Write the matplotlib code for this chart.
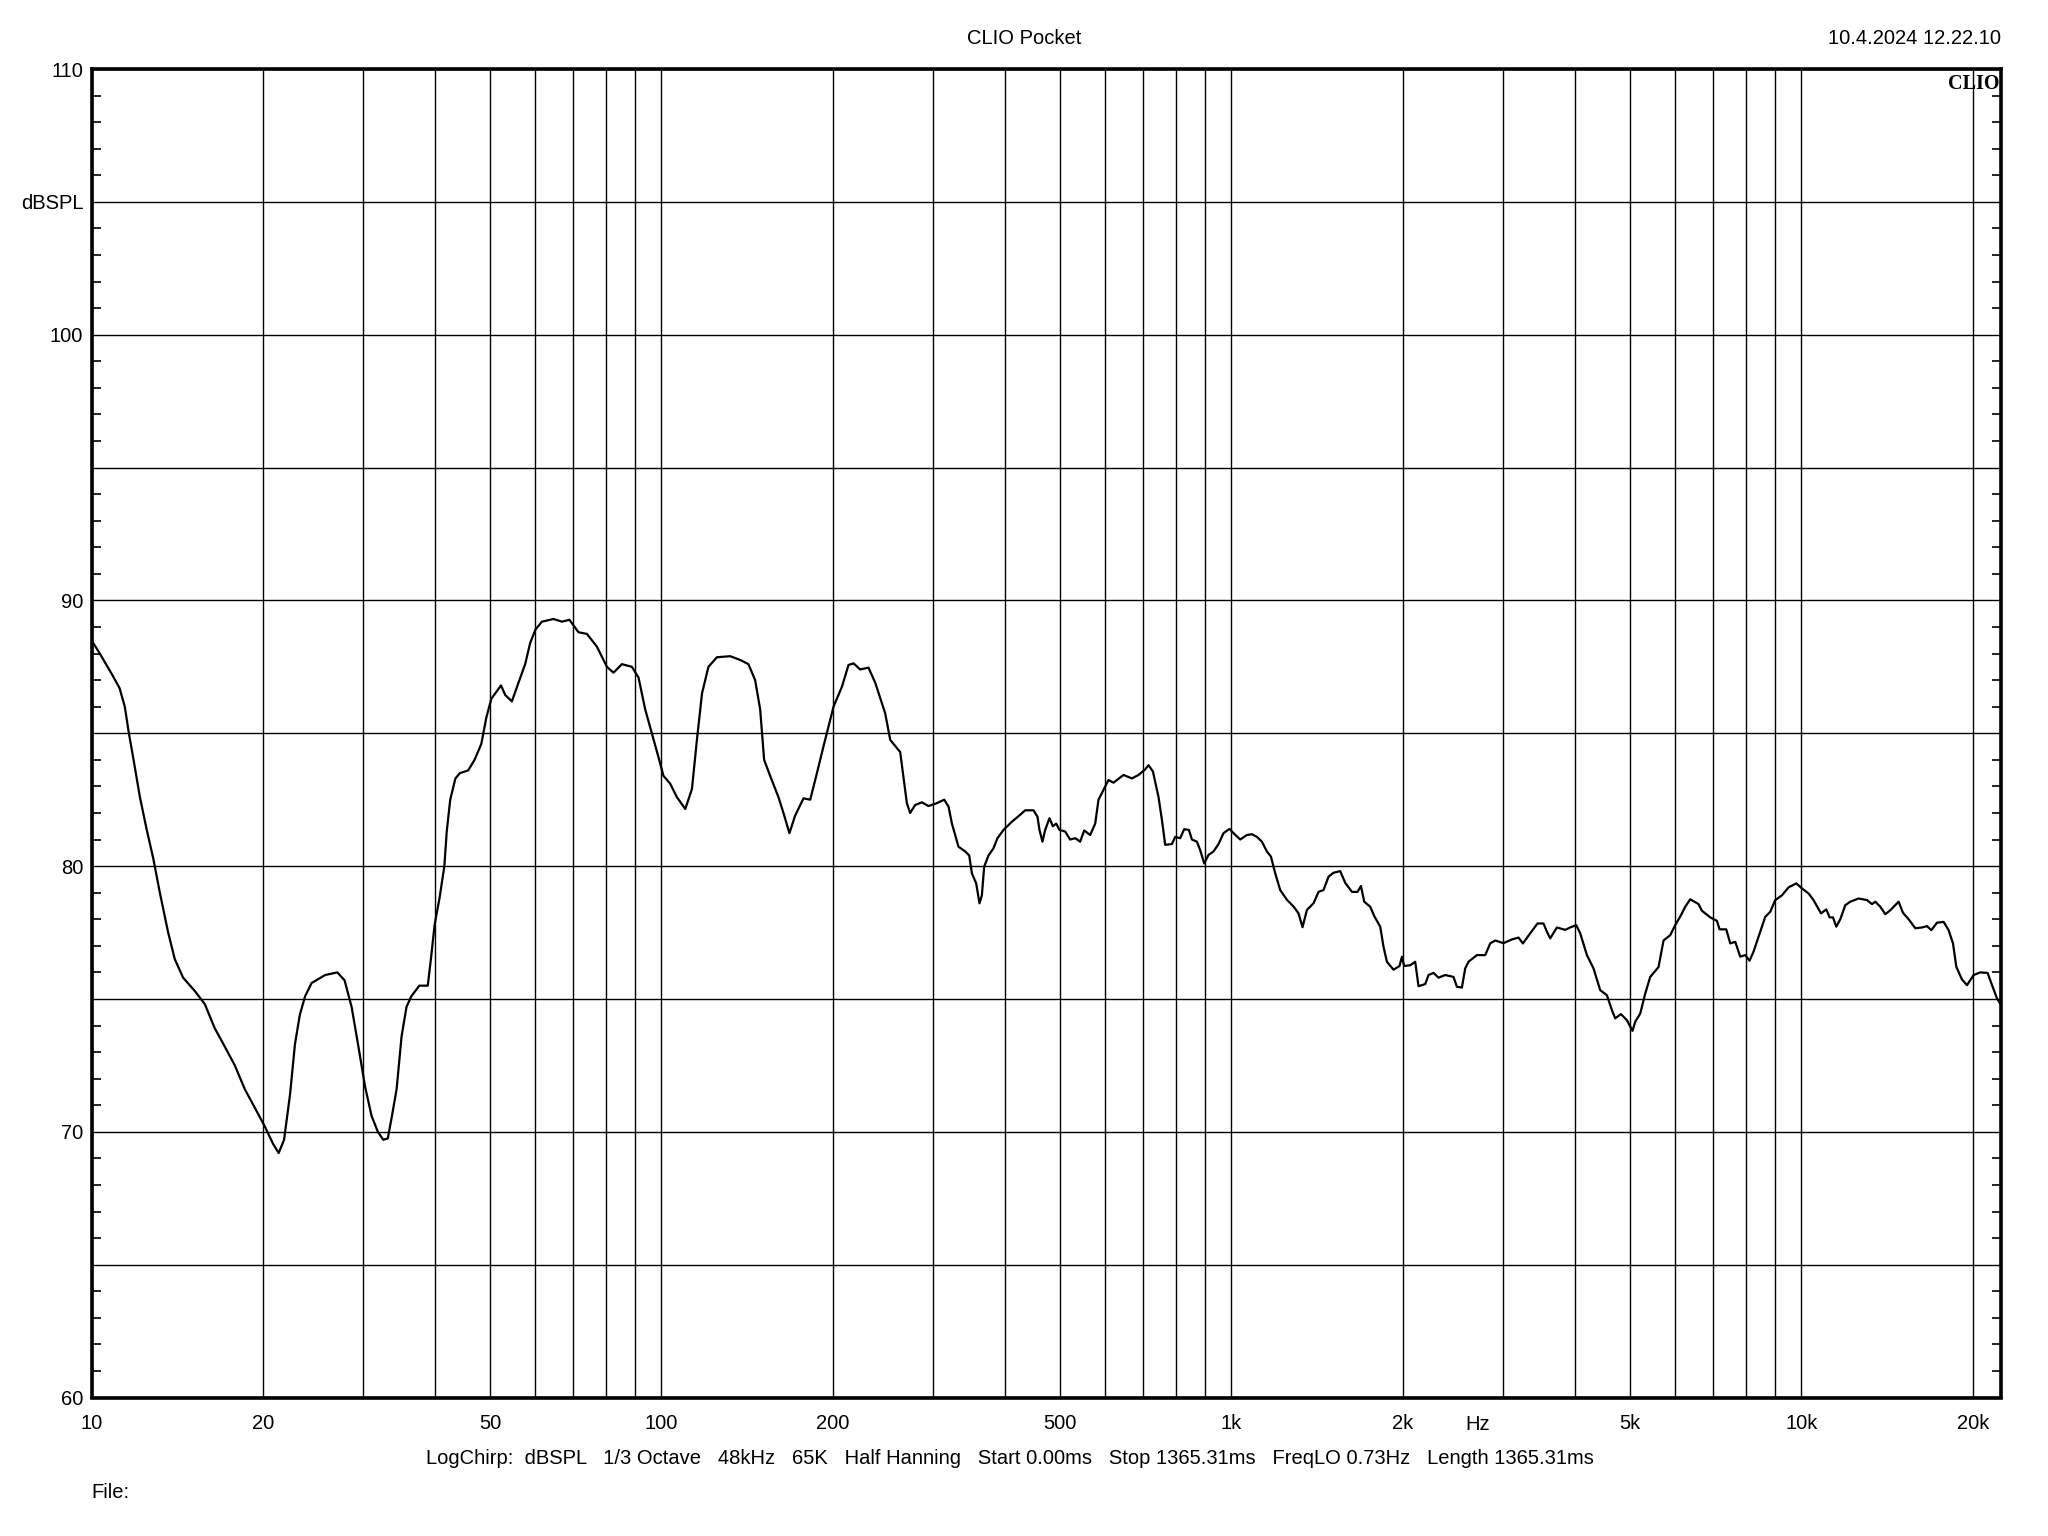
# CLIO Pocket frequency response (LogChirp, 1/3 octave)
import matplotlib as mpl
mpl.use('Agg')
mpl.rcParams['font.family'] = ['Liberation Sans', 'DejaVu Sans']
import matplotlib.pyplot as plt
import matplotlib.transforms as mtransforms
import numpy as np

# Response curve (Hz, dBSPL)
freq = [10, 10.34, 10.84, 11.2, 11.44, 11.63, 11.83, 12.16, 12.49, 12.83, 13.18, 13.63, 14.0, 14.48,
        15.18, 15.81, 16.45, 17.14, 17.84, 18.58, 19.35, 20.14, 20.82, 21.3, 21.77, 22.3, 22.75, 23.2,
        23.7, 24.33, 25.7, 27.0, 27.8, 28.6, 29.4, 30.2, 31.0, 31.8, 32.5, 33.1, 33.6, 34.3, 35.0, 35.7,
        36.4, 37.6, 38.9, 39.4, 40.0, 40.8, 41.6, 42.0, 42.6, 43.5, 44.3, 45.8, 47.0, 48.3, 49.3, 50.3,
        52.3, 53.19, 54.65, 56.12, 57.66, 58.84, 60.1, 61.69, 64.65, 66.88, 68.96, 71.52, 73.99, 77.04,
        80.22, 82.38, 85.23, 88.74, 91.14, 93.64, 96.19, 98.8, 100.8, 103.6, 106.4, 110.1, 113.1, 115.4,
        117.8, 120.9, 125.1, 132.0, 137.4, 142.1, 146.0, 149.0, 151.4, 155.1, 160.4, 163.7, 167.7, 171.6,
        177.5, 182.4, 187.4, 192.4, 200.4, 207.4, 212.9, 217.3, 223.2, 230.8, 237.2, 246.9, 252.0, 260.5,
        262.3, 269.5, 273.1, 278.7, 286.4, 294.1, 304.3, 313.4, 318.9, 323.3, 332.0, 341.2, 346.7, 350.5,
        356.6, 361.4, 364.9, 368.3, 374.8, 382.4, 388.6, 398.2, 411.9, 425.9, 434.6, 449.5, 456.8, 460.5,
        466.1, 471.2, 479.5, 486.1, 492.7, 499.3, 510.9, 521.3, 532.0, 542.8, 551.7, 565.2, 576.8, 584.5,
        596.4, 608.6, 621.0, 646.6, 669.0, 687.1, 705.9, 715.4, 728.2, 738.0, 744.9, 755.2, 765.3, 786.3,
        796.9, 813.1, 826.4, 842.2, 852.5, 869.9, 881.5, 895.9, 911.6, 930.2, 949.2, 968.6, 992.4, 1008.5,
        1036.2, 1064.6, 1086.3, 1108.5, 1131.1, 1154.2, 1173.0, 1193.6, 1217.9, 1251.4, 1285.2, 1311.4,
        1332.8, 1356.7, 1393.4, 1421.8, 1450.8, 1480.4, 1510.6, 1552.1, 1583.8, 1627.3, 1664.5, 1687.5,
        1710.2, 1752.1, 1780.6, 1824.3, 1848.7, 1874.3, 1924.9, 1972.1, 1991.3, 2009.9, 2059.2, 2101.2,
        2129.4, 2187.9, 2217.2, 2262.4, 2308.6, 2371.9, 2452.8, 2486.7, 2537.5, 2571.5, 2606.1, 2696.0,
        2788.0, 2844.9, 2902.9, 3001.9, 3105.5, 3189.4, 3246.6, 3343.8, 3443.9, 3528.4, 3577.2, 3625.3,
        3724.7, 3851.7, 3930.4, 4026.8, 4092.4, 4204.6, 4318.2, 4436.7, 4558.5, 4651.5, 4713.9, 4823.7,
        4942.1, 5055.2, 5110.7, 5215.0, 5321.4, 5430.0, 5615.2, 5729.8, 5887.0, 6007.1, 6129.8, 6254.8,
        6382.5, 6600, 6691, 6921, 7110, 7185, 7382, 7503, 7656, 7812, 7971, 8111, 8243, 8411, 8642, 8818,
        8998, 9245, 9495, 9796, 10024, 10295, 10505, 10824, 11058, 11207, 11362, 11515, 11703, 11942,
        12185, 12601, 13036, 13302, 13481, 13756, 14037, 14323, 14616, 14812, 15078, 15423, 15846, 16280,
        16612, 16903, 17297, 17764, 18127, 18452, 18700, 19135, 19526, 20054, 20604, 21220, 21601, 22042,
        22401]
spl = [88.5, 88.0, 87.25, 86.7, 86.0, 85.0, 84.1, 82.6, 81.4, 80.3, 79.0, 77.5, 76.5, 75.8,
       75.3, 74.8, 73.9, 73.2, 72.5, 71.6, 70.9, 70.2, 69.55, 69.2, 69.7, 71.4, 73.3, 74.4,
       75.1, 75.6, 75.9, 76.0, 75.7, 74.7, 73.2, 71.7, 70.6, 70.0, 69.7, 69.75, 70.5, 71.6, 73.6, 74.7,
       75.1, 75.5, 75.5, 76.5, 77.8, 78.8, 80.0, 81.3, 82.5, 83.3, 83.5, 83.6, 84.0, 84.6, 85.6, 86.3,
       86.8, 86.44, 86.2, 86.9, 87.6, 88.4, 88.9, 89.2, 89.3, 89.2, 89.27, 88.8, 88.74, 88.26,
       87.5, 87.28, 87.6, 87.5, 87.1, 85.9, 85.0, 84.1, 83.4, 83.1, 82.6, 82.15, 82.9, 84.75,
       86.5, 87.5, 87.86, 87.9, 87.76, 87.6, 87.0, 85.9, 84.0, 83.4, 82.6, 82.0, 81.24, 81.9,
       82.55, 82.5, 83.5, 84.5, 86.0, 86.76, 87.57, 87.63, 87.4, 87.47, 86.9, 85.75, 84.75, 84.37,
       84.3, 82.37, 82.0, 82.3, 82.4, 82.26, 82.37, 82.5, 82.24, 81.6, 80.73, 80.55, 80.4, 79.73,
       79.35, 78.6, 78.9, 79.98, 80.4, 80.67, 81.05, 81.36, 81.67, 81.93, 82.1, 82.1, 81.86, 81.36,
       80.92, 81.36, 81.8, 81.5, 81.6, 81.36, 81.3, 81.0, 81.05, 80.92, 81.34, 81.17, 81.6, 82.5,
       82.87, 83.24, 83.14, 83.43, 83.3, 83.43, 83.64, 83.8, 83.56, 83.0, 82.6, 81.74, 80.8, 80.83,
       81.1, 81.05, 81.39, 81.36, 81.0, 80.92, 80.6, 80.1, 80.42, 80.55, 80.83, 81.24, 81.4, 81.24,
       81.0, 81.17, 81.2, 81.1, 80.92, 80.55, 80.36, 79.73, 79.1, 78.73, 78.48, 78.22,
       77.7, 78.35, 78.6, 79.03, 79.1, 79.6, 79.75, 79.81, 79.37, 79.03, 79.03, 79.25,
       78.66, 78.47, 78.12, 77.72, 76.96, 76.4, 76.1, 76.24, 76.59, 76.24, 76.27, 76.4,
       75.48, 75.56, 75.9, 75.98, 75.8, 75.9, 75.83, 75.46, 75.43, 76.15, 76.4, 76.65,
       76.65, 77.09, 77.2, 77.1, 77.24, 77.31, 77.09, 77.47, 77.84, 77.84, 77.53, 77.28,
       77.69, 77.6, 77.69, 77.78, 77.47, 76.65, 76.15, 75.33, 75.14, 74.58, 74.27, 74.43,
       74.2, 73.8, 74.14, 74.45, 75.2, 75.83, 76.2, 77.2, 77.4, 77.78, 78.1, 78.47,
       78.75, 78.57, 78.32, 78.07, 77.94, 77.62, 77.62, 77.09, 77.15, 76.59, 76.65, 76.44, 76.78, 77.34, 78.09, 78.28,
       78.72, 78.9, 79.2, 79.35, 79.16, 78.97, 78.72, 78.22, 78.37, 78.07, 78.07, 77.72, 78.0, 78.53,
       78.66, 78.78, 78.72, 78.57, 78.66, 78.47, 78.19, 78.34, 78.53, 78.66, 78.24, 78.0, 77.66, 77.69,
       77.74, 77.59, 77.87, 77.9, 77.59, 77.09, 76.21, 75.73, 75.52, 75.9, 76.0, 75.98, 75.52, 75.02,
       74.77]

# Axis setup
f_min, f_max = 10, 22400
db_min, db_max = 60, 110
grid_freqs = [20, 30, 40, 50, 60, 70, 80, 90,
              100, 200, 300, 400, 500, 600, 700, 800, 900,
              1000, 2000, 3000, 4000, 5000, 6000, 7000, 8000, 9000,
              10000, 20000]
xlabels = {10: '10', 20: '20', 50: '50', 100: '100', 200: '200', 500: '500',
           1000: '1k', 2000: '2k', 5000: '5k', 10000: '10k', 20000: '20k'}
ylabels = {60: '60', 70: '70', 80: '80', 90: '90', 100: '100', 105: 'dBSPL', 110: '110'}

info = ('LogChirp:  dBSPL   1/3 Octave   48kHz   65K   Half Hanning   Start 0.00ms   '
        'Stop 1365.31ms   FreqLO 0.73Hz   Length 1365.31ms')

FS = 14.5
W, H = 2048, 1536
fig = plt.figure(figsize=(W / 100, H / 100), dpi=100)
ax = fig.add_axes([91.5 / W, 1 - 1397.5 / H, (2001 - 91.5) / W, (1397.5 - 69) / H])

ax.plot(freq, spl, color='black', lw=1.6)

ax.set_xscale('log')
ax.set_xlim(f_min, f_max)
ax.set_ylim(db_min, db_max)

xt = [10] + grid_freqs
ax.set_xticks(xt)
ax.set_xticklabels([xlabels.get(f, '') for f in xt])
ax.xaxis.set_minor_locator(mpl.ticker.NullLocator())
ax.tick_params(axis='x', which='major', length=0, pad=12, labelsize=FS)

yt = np.arange(db_min, db_max + 1, 5)
ax.set_yticks(yt)
ax.set_yticklabels([ylabels.get(int(v), '') for v in yt])
ax.set_yticks(np.arange(db_min, db_max + 1, 1), minor=True)
ax.tick_params(axis='y', which='major', length=0, pad=6, labelsize=FS)
ax.tick_params(axis='y', which='minor', direction='in', length=6.5, width=1.2,
               left=True, right=True)

ax.grid(True, which='major', color='black', lw=1.0)
for s in ax.spines.values():
    s.set_linewidth(2.6)

# "Hz" unit label between 2k and 5k
trans = mtransforms.blended_transform_factory(ax.transData, ax.transAxes)
ax.text(2700, -0.0205, 'Hz', transform=trans, ha='center', va='center', fontsize=FS)

ax.text(0.999, 0.996, 'CLIO', transform=ax.transAxes, ha='right', va='top',
        family='Liberation Serif', weight='bold', fontsize=14.5)

fig.text(1024 / W, 1 - 38 / H, 'CLIO Pocket', ha='center', va='center', fontsize=FS)
fig.text(2001 / W, 1 - 39 / H, '10.4.2024 12.22.10', ha='right', va='center', fontsize=FS)
fig.text(426 / W, 1 - 1458 / H, info, ha='left', va='center', fontsize=FS)
fig.text(91 / W, 1 - 1492 / H, 'File:', ha='left', va='center', fontsize=FS)

plt.savefig('out.png', dpi=100)
